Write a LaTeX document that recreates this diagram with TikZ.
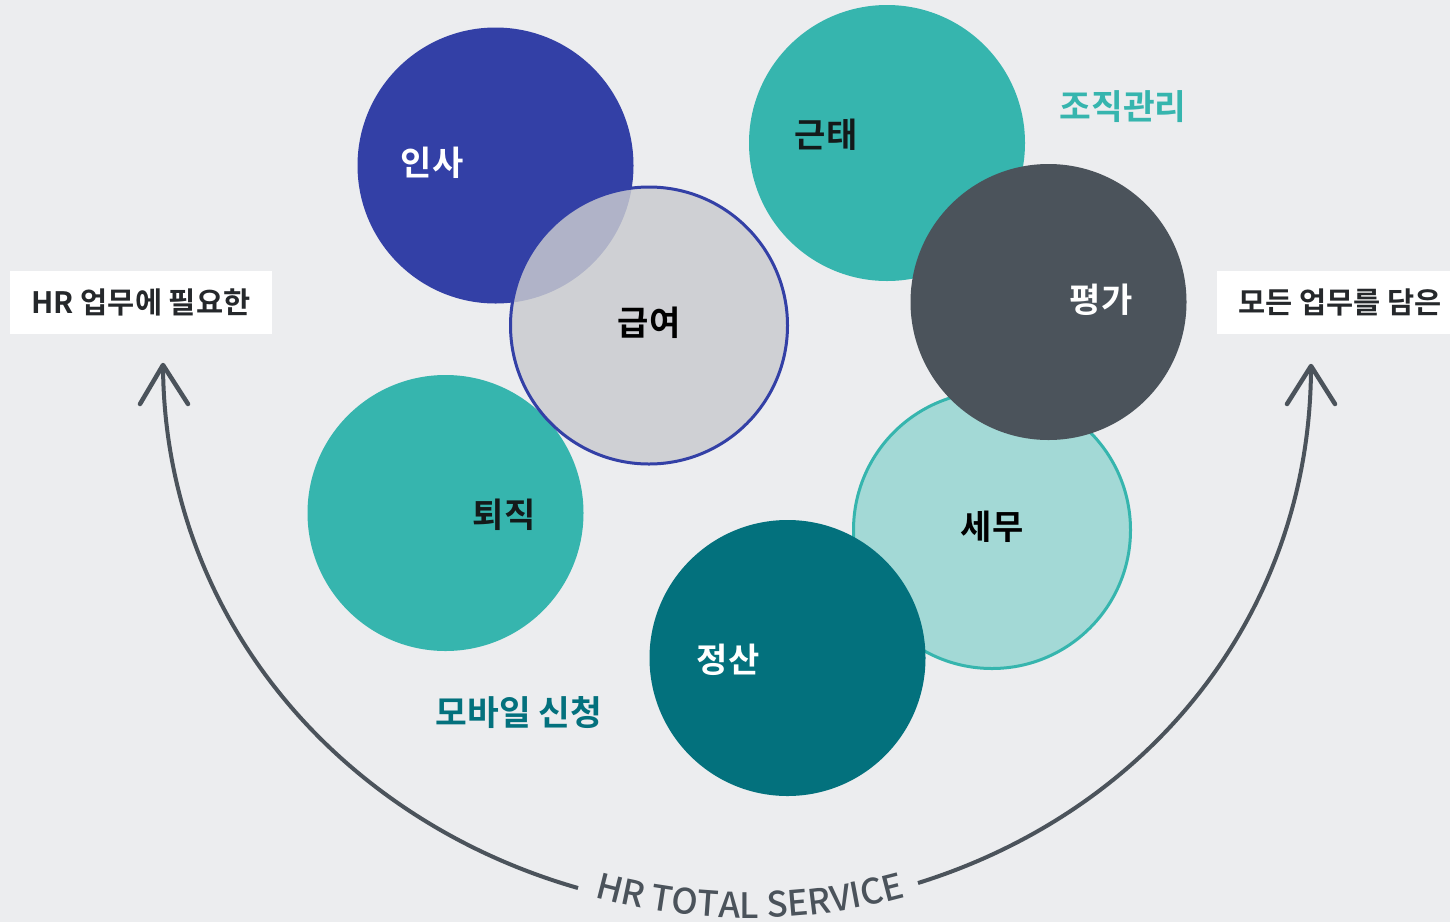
\documentclass[tikz,border=0pt]{standalone}
\usepackage{fontspec}
\setmainfont{Noto Sans CJK KR}
\newfontfamily\krb{Noto Sans CJK KR Bold}
\newfontfamily\krm{Noto Sans CJK KR Medium}
\usetikzlibrary{decorations.text}
\definecolor{bg}{HTML}{ECEDEF}
\definecolor{cblue}{HTML}{3340A6}
\definecolor{cgray}{HTML}{CACBCF}
\definecolor{cteal}{HTML}{36B5AE}
\definecolor{cdark}{HTML}{4B535B}
\definecolor{clight}{HTML}{A3D9D6}
\definecolor{cdteal}{HTML}{03717D}
\definecolor{ctext}{HTML}{25282B}
\definecolor{cblack}{HTML}{141A1A}
\tikzset{
  bub/.style={circle, minimum size=276pt, inner sep=0pt},
  blab/.style={inner sep=0pt, font=\krb\fontsize{34}{40}\selectfont},
  tlab/.style={inner sep=0pt, font=\krb\fontsize{34.5}{40}\selectfont},
  boxlab/.style={inner sep=0pt, text=ctext, font=\krb\fontsize{29.5}{34}\selectfont},
  arc line/.style={draw=cdark, line width=4pt},
  chev/.style={draw=cdark, line width=4.5pt, line cap=round, line join=round},
}
\begin{document}
\begin{tikzpicture}[x=1pt,y=1pt]
\fill[bg] (0,0) rectangle (1450,-922);
\useasboundingbox (0,0) rectangle (1450,-922);

% circles
\node[bub, fill=cblue] (insa) at (495.5,-165.5) {};
\node[bub, fill=cteal] (toejik) at (445.5,-513) {};
\node[bub, minimum size=277pt, fill=cgray, fill opacity=0.83, draw=cblue, line width=3pt] (geubyeo) at (649,-325.5) {};
\node[bub, fill=cteal] (geuntae) at (887,-143) {};
\node[bub, minimum size=277pt, fill=clight, draw=cteal, line width=3pt] (semu) at (992,-530) {};
\node[bub, fill=cdark] (pyeongga) at (1048.5,-302) {};
\node[bub, fill=cdteal] (jeongsan) at (787.5,-658) {};

% circle labels
\node[blab, text=white] (linsa) at (432,-163) {인사};
\node[blab, text=black] (lgeubyeo) at (649,-323) {급여};
\node[blab, text=cblack] (ltoejik) at (504,-515) {퇴직};
\node[blab, text=cblack] (lgeuntae) at (826,-135) {근태};
\node[blab, text=white] (lpyeongga) at (1101,-300) {평가};
\node[blab, text=black] (lsemu) at (992,-527) {세무};
\node[blab, text=white] (ljeongsan) at (728,-660) {정산};
\node[tlab, text=cteal] (ljojik) at (1123,-107) {조직관리};
\node[tlab, text=cdteal] (lmobile) at (519,-713) {모바일 신청};

% boxes
\node[fill=white, minimum width=262pt, minimum height=63pt, inner sep=0pt] (lbox) at (141,-302.5) {};
\node[boxlab] (lboxtext) at (141,-302) {HR 업무에 필요한};
\fill[white] (1217,-271) rectangle (1450,-334);
\node[boxlab] (rboxtext) at (1340,-302) {모든 업무를 담은};

% arc arrows
\coordinate (ltip) at (163,-365);
\coordinate (lend) at (578,-888);
\coordinate (rstart) at (918,-883);
\coordinate (rtip) at (1311,-366);
\draw[arc line] (ltip) .. controls (164,-615) and (337,-819) .. (lend);
\draw[arc line] (rstart) .. controls (1152,-810) and (1311,-611) .. (rtip);
\draw[chev] (140,-404) -- (ltip) -- (188,-404);
\draw[chev] (1287,-404) -- (rtip) -- (1335,-404);

% text along bottom arc
\path[decorate, decoration={text along path, text align=center,
  text={|\krm\fontsize{35}{38}\selectfont\color{cdark}|HR TOTAL SERVICE}}]
  (750,-333) ++(240:585) arc[start angle=240, end angle=300, radius=585];
\end{tikzpicture}
\end{document}
